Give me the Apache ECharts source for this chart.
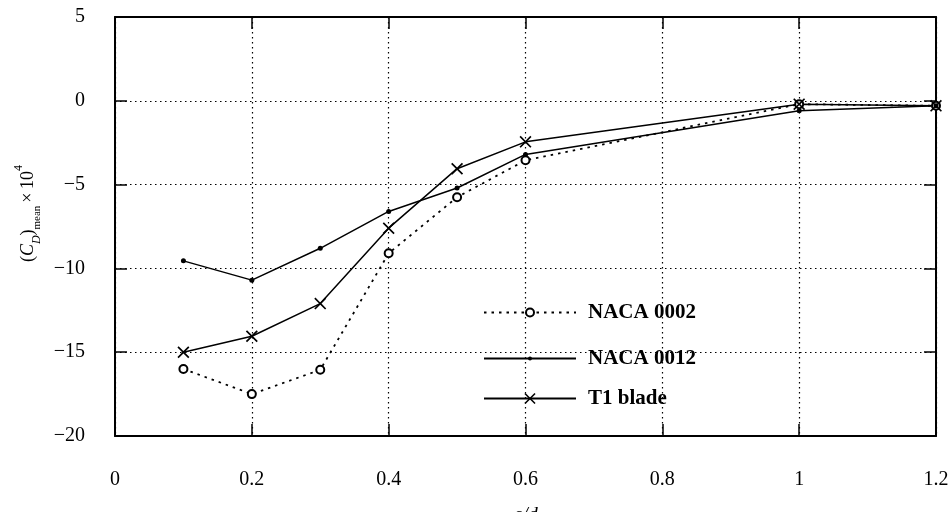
<!DOCTYPE html>
<html>
<head>
<meta charset="utf-8">
<script src="https://cdn.jsdelivr.net/npm/echarts@6/dist/echarts.min.js"></script>
<style>
  html, body { margin: 0; padding: 0; background: #fff; }
  #chart { width: 948px; height: 512px; }
</style>
</head>
<body>
<div id="chart"></div>
<script>
// Spacing ratios and mean drag coefficient (x 10^4) for the three blade sections
var spacing = [0.1, 0.2, 0.3, 0.4, 0.5, 0.6, 1.0, 1.2];
var naca0002 = [-16.0, -17.5, -16.05, -9.1, -5.75, -3.55, -0.2, -0.3];
var naca0012 = [-9.55, -10.7, -8.8, -6.6, -5.2, -3.2, -0.6, -0.3];
var t1Blade = [-15.0, -14.05, -12.1, -7.6, -4.05, -2.45, -0.2, -0.3];
var seriesNames = ['NACA 0002', 'NACA 0012', 'T1 blade'];

var xTicks = { min: 0, max: 1.2, interval: 0.2 };
var yTicks = { min: -20, max: 5, interval: 5 };

var FONT = 'Liberation Serif';
var crossSymbol = 'path://M0,1L1,0L5,4L9,0L10,1L6,5L10,9L9,10L5,6L1,10L0,9L4,5Z';

function pairs(values) {
  return spacing.map(function (x, i) { return [x, values[i]]; });
}

function fmtX(v) { return String(parseFloat(Number(v).toFixed(2))); }
function fmtY(v) {
  var n = Math.round(v);
  return n < 0 ? '\u2212' + Math.abs(n) : String(n);
}

var gridLine = { show: true, lineStyle: { color: '#000', width: 1.2, type: [1.5, 3.5] } };
var frameLine = { show: true, onZero: false, lineStyle: { color: '#000', width: 2 } };
var innerTick = { show: true, inside: true, length: 12, lineStyle: { color: '#000', width: 1.5 } };

var chart = echarts.init(document.getElementById('chart'), null, { renderer: 'canvas' });

function legendBox(name, top, iconHeight) {
  return {
    data: [name],
    orient: 'vertical',
    left: 483,
    top: top,
    padding: 0,
    itemWidth: 92,
    itemHeight: iconHeight,
    selectedMode: false,
    textStyle: { fontFamily: FONT, fontSize: 21, fontWeight: 'bold', color: '#000', padding: [0, 0, 0, 7] }
  };
}

chart.setOption({
  backgroundColor: '#fff',
  animation: false,
  grid: { left: 115, right: 12, top: 17, bottom: 76, containLabel: false, outerBoundsMode: 'none' },
  legend: [
    legendBox(seriesNames[0], 302, 10),
    legendBox(seriesNames[1], 348, 5),
    legendBox(seriesNames[2], 388, 14)
  ],
  xAxis: [
    {
      type: 'value', min: xTicks.min, max: xTicks.max, interval: xTicks.interval,
      position: 'bottom',
      name: 'c/d',
      nameLocation: 'middle',
      nameGap: 70,
      nameTextStyle: { fontFamily: FONT, fontSize: 20, fontStyle: 'italic', color: '#000' },
      axisLine: frameLine,
      axisTick: innerTick,
      splitLine: gridLine,
      axisLabel: { margin: 34, fontFamily: FONT, fontSize: 20, color: '#000', formatter: fmtX }
    },
    {
      type: 'value', min: xTicks.min, max: xTicks.max, interval: xTicks.interval,
      position: 'top',
      axisLine: frameLine,
      axisTick: innerTick,
      splitLine: { show: false },
      axisLabel: { show: false }
    }
  ],
  yAxis: [
    {
      type: 'value', min: yTicks.min, max: yTicks.max, interval: yTicks.interval,
      position: 'left',
      name: '{t|(}{it|C}{subi|D}{t|)}{sub|mean}{x|\u00d7\u200910}{sup|4}',
      nameLocation: 'middle',
      nameRotate: 90,
      nameGap: 72,
      nameTextStyle: {
        fontFamily: FONT, fontSize: 18, color: '#000',
        padding: [0, 0, 0, 26],
        rich: {
          t: { fontFamily: FONT, fontSize: 18, lineHeight: 30, color: '#000' },
          x: { fontFamily: FONT, fontSize: 18, lineHeight: 30, color: '#000', padding: [0, 0, 0, 3] },
          it: { fontFamily: FONT, fontSize: 18, lineHeight: 30, fontStyle: 'italic', color: '#000' },
          sub: { fontFamily: FONT, fontSize: 11, lineHeight: 12, verticalAlign: 'bottom', color: '#000' },
          subi: { fontFamily: FONT, fontSize: 12, lineHeight: 12, fontStyle: 'italic', verticalAlign: 'bottom', color: '#000' },
          sup: { fontFamily: FONT, fontSize: 12, lineHeight: 12, verticalAlign: 'top', color: '#000' }
        }
      },
      axisLine: frameLine,
      axisTick: innerTick,
      splitLine: gridLine,
      axisLabel: { margin: 30, fontFamily: FONT, fontSize: 20, color: '#000', formatter: fmtY }
    },
    {
      type: 'value', min: yTicks.min, max: yTicks.max, interval: yTicks.interval,
      position: 'right',
      axisLine: frameLine,
      axisTick: innerTick,
      splitLine: { show: false },
      axisLabel: { show: false }
    }
  ],
  series: [
    {
      name: seriesNames[0], type: 'line', xAxisIndex: 0, yAxisIndex: 0,
      data: pairs(naca0002),
      symbol: 'emptyCircle', symbolSize: 8, showAllSymbol: true,
      lineStyle: { color: '#000', width: 1.8, type: [2.5, 5] },
      itemStyle: { color: '#000', borderColor: '#000', borderWidth: 1.4 },
      emphasis: { disabled: true }
    },
    {
      name: seriesNames[1], type: 'line', xAxisIndex: 0, yAxisIndex: 0,
      data: pairs(naca0012),
      symbol: 'circle', symbolSize: 5, showAllSymbol: true,
      lineStyle: { color: '#000', width: 1.5, type: 'solid' },
      itemStyle: { color: '#000' },
      emphasis: { disabled: true }
    },
    {
      name: seriesNames[2], type: 'line', xAxisIndex: 0, yAxisIndex: 0,
      data: pairs(t1Blade),
      symbol: crossSymbol, symbolSize: 12, showAllSymbol: true,
      lineStyle: { color: '#000', width: 1.5, type: 'solid' },
      itemStyle: { color: '#000' },
      emphasis: { disabled: true }
    }
  ]
});
</script>
</body>
</html>
